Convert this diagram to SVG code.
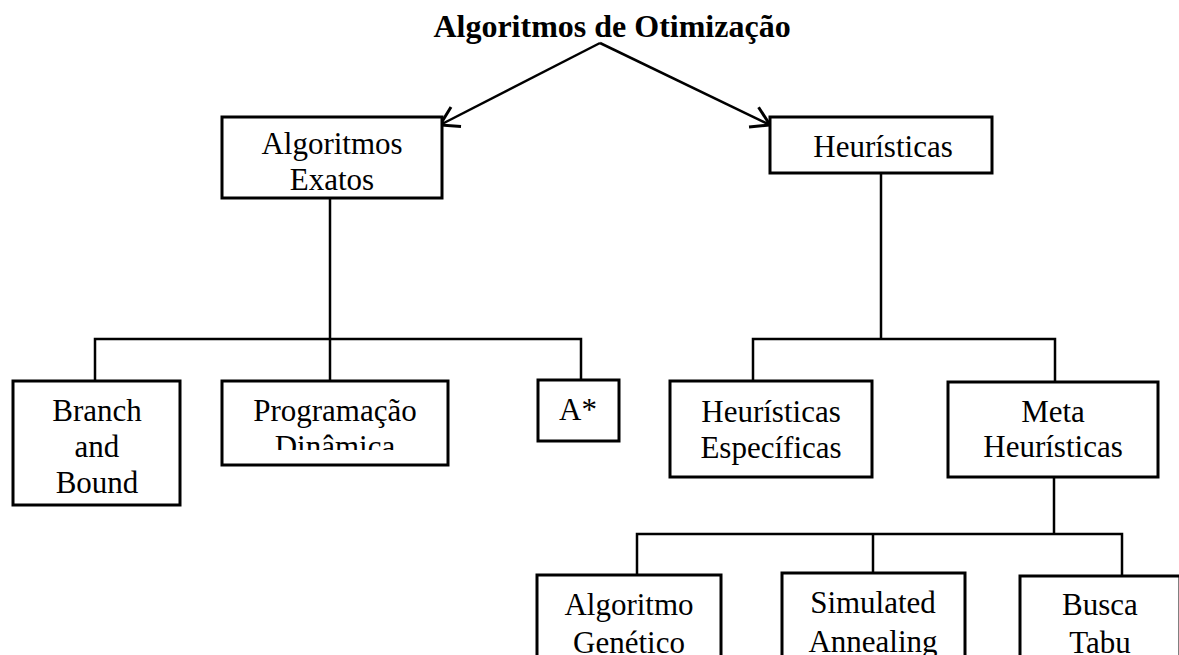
<svg xmlns="http://www.w3.org/2000/svg" width="1179" height="655" viewBox="0 0 1179 655">
<style>
.box{fill:#fff;stroke:#000;stroke-width:3}
.t{font-family:"Liberation Serif","Times New Roman",serif;font-size:31px;fill:#000;text-anchor:middle}
.title{font-family:"Liberation Serif","Times New Roman",serif;font-size:32px;font-weight:bold;fill:#000;text-anchor:middle}
.ln{fill:none;stroke:#000;stroke-width:2.5}
</style>
<defs>
<marker id="arr" markerUnits="userSpaceOnUse" viewBox="-21 -13 23 26" refX="0" refY="0" markerWidth="23" markerHeight="26" orient="auto">
<path d="M-18,-11 L0,0 L-18,11" fill="none" stroke="#000" stroke-width="3"/>
</marker>
<clipPath id="cProg"><rect x="222" y="381" width="226" height="69"/></clipPath>
</defs>
<rect width="1179" height="655" fill="#fff"/>
<text class="title" x="612" y="37">Algoritmos de Otimização</text>
<g id="connectors">
<line class="ln" x1="600" y1="43" x2="440" y2="125" marker-end="url(#arr)"/>
<line class="ln" x1="600" y1="43" x2="770" y2="125" marker-end="url(#arr)"/>
<polyline class="ln" points="330,198 330,339"/>
<polyline class="ln" points="95,381 95,339 581,339 581,380"/>
<polyline class="ln" points="330,339 330,381"/>
<polyline class="ln" points="881,173 881,339"/>
<polyline class="ln" points="753,381 753,339 1055,339 1055,381"/>
<polyline class="ln" points="1054,477 1054,534"/>
<polyline class="ln" points="637,575 637,534 1122,534 1122,576"/>
<polyline class="ln" points="873,534 873,573"/>
</g>
<g id="algoritmos-exatos">
<rect class="box" x="222" y="117" width="220" height="81"/>
<text class="t" x="332" y="154">Algoritmos</text>
<text class="t" x="332" y="190">Exatos</text>
</g>
<g id="heuristicas">
<rect class="box" x="770" y="117" width="222" height="56"/>
<text class="t" x="883" y="157">Heurísticas</text>
</g>
<g id="branch-and-bound">
<rect class="box" x="13" y="381" width="167" height="124"/>
<text class="t" x="97" y="421">Branch</text>
<text class="t" x="97" y="457">and</text>
<text class="t" x="97" y="493">Bound</text>
</g>
<g id="programacao-dinamica">
<rect class="box" x="222" y="381" width="226" height="84"/>
<g clip-path="url(#cProg)">
<text class="t" x="335" y="421">Programação</text>
<text class="t" x="335" y="457">Dinâmica</text>
</g>
</g>
<g id="a-star">
<rect class="box" x="538" y="380" width="81" height="61"/>
<text class="t" x="578" y="420">A*</text>
</g>
<g id="heuristicas-especificas">
<rect class="box" x="670" y="381" width="202" height="96"/>
<text class="t" x="771" y="422">Heurísticas</text>
<text class="t" x="771" y="458">Específicas</text>
</g>
<g id="meta-heuristicas">
<rect class="box" x="948" y="382" width="210" height="95"/>
<text class="t" x="1053" y="422">Meta</text>
<text class="t" x="1053" y="457">Heurísticas</text>
</g>
<g id="algoritmo-genetico">
<rect class="box" x="537" y="575" width="184" height="100"/>
<text class="t" x="629" y="615">Algoritmo</text>
<text class="t" x="629" y="653">Genético</text>
</g>
<g id="simulated-annealing">
<rect class="box" x="782" y="573" width="183" height="102"/>
<text class="t" x="873" y="613">Simulated</text>
<text class="t" x="873" y="652">Annealing</text>
</g>
<g id="busca-tabu">
<rect class="box" x="1020" y="576" width="160" height="100"/>
<text class="t" x="1100" y="615">Busca</text>
<text class="t" x="1100" y="653">Tabu</text>
</g>
</svg>
